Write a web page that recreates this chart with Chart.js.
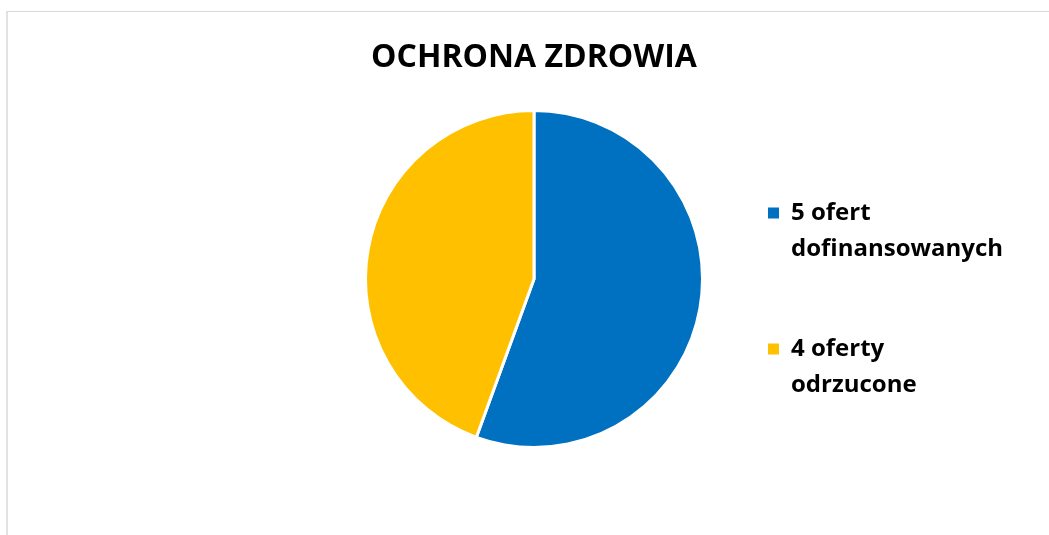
<!DOCTYPE html>
<html><head><meta charset="utf-8">
<script src="https://cdn.jsdelivr.net/npm/chart.js@4"></script>
<style>
html,body{margin:0;padding:0;background:#fff;overflow:hidden;}
#frame{position:absolute;left:6px;top:11px;width:1100px;height:600px;border-left:2px solid #e2e2e2;border-top:1px solid #d9d9d9;box-sizing:border-box;}
#wrap{position:absolute;left:0;top:0;width:1049px;height:535px;}
</style>
</head><body>
<div id="frame"></div>
<div id="wrap"><canvas id="c" width="1049" height="535"></canvas></div>
<script>
const chartTitle = 'OCHRONA ZDROWIA';
const categories = [['5 ofert', 'dofinansowanych'], ['4 oferty', 'odrzucone']];
const values = [5, 4];
const colors = ['#0070C0', '#FFC000'];

const FONT = '"Open Sans", "Noto Sans", sans-serif';
const legendFontSize = 24;
const legendPad = 64;
const boxSize = 11;
const legendLeft = 704;
const mctx = document.createElement('canvas').getContext('2d');
mctx.font = 'bold ' + legendFontSize + 'px ' + FONT;
let longest = 0;
categories.forEach(c => c.forEach(t => { longest = Math.max(longest, mctx.measureText(t).width); }));
const legendWidth = legendPad + boxSize + legendFontSize / 2 + longest + 10;
const padRight = Math.max(0, 1049 - legendLeft - legendWidth);

new Chart(document.getElementById('c'), {
  type: 'pie',
  data: {
    labels: categories,
    datasets: [{
      data: values,
      backgroundColor: colors,
      borderColor: '#ffffff',
      borderWidth: 3,
      hoverOffset: 0
    }]
  },
  options: {
    responsive: false,
    animation: false,
    layout: { padding: { left: 364, right: padRight, top: 0, bottom: 56 } },
    plugins: {
      title: {
        display: true,
        text: chartTitle,
        fullSize: false,
        color: '#000',
        font: { family: FONT, size: 32, weight: 'bold', lineHeight: 1 },
        padding: { top: 42, bottom: 5 }
      },
      legend: {
        display: true,
        position: 'right',
        fullSize: false,
        align: 'center',
        title: { display: true, text: '', font: { size: 10, lineHeight: 1 }, padding: { top: 21, bottom: 21 } },
        labels: {
          color: '#000',
          boxWidth: boxSize,
          boxHeight: boxSize,
          padding: legendPad,
          font: { family: FONT, size: legendFontSize, weight: 'bold', lineHeight: 1.5 },
          generateLabels: (chart) => Chart.overrides.pie.plugins.legend.labels.generateLabels(chart)
            .map(item => Object.assign(item, { lineWidth: 0, strokeStyle: 'rgba(0,0,0,0)' }))
        }
      },
      tooltip: { enabled: false }
    }
  }
});
</script>
</body></html>
